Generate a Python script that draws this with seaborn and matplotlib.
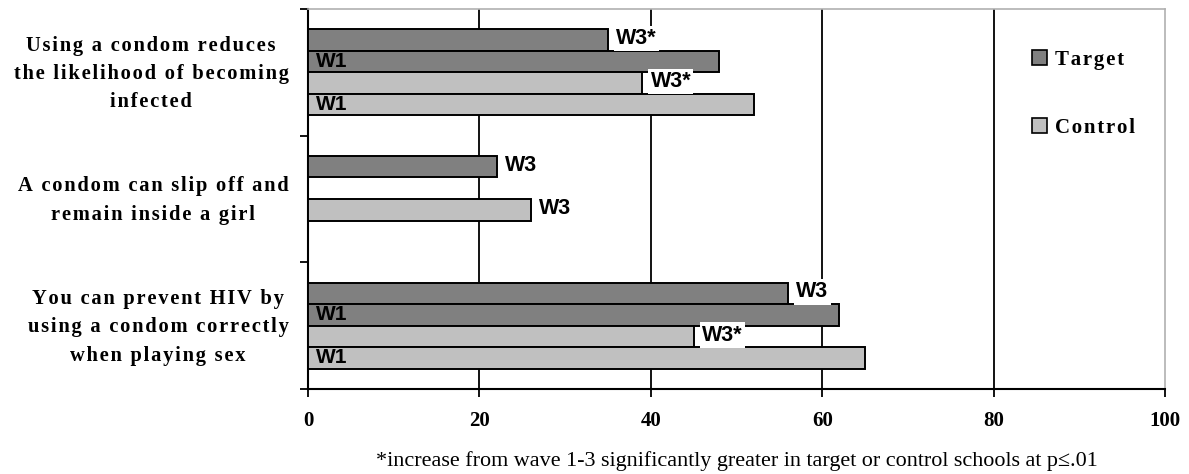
import numpy as np
import pandas as pd
import seaborn as sns
import matplotlib.pyplot as plt
from matplotlib.patches import Patch
from matplotlib.ticker import FixedLocator
from matplotlib.transforms import ScaledTranslation

# categories, top to bottom
categories = [
    "Using a condom reduces\nthe likelihood of becoming\ninfected",
    "A condom can slip off and\nremain inside a girl",
    "You can prevent HIV by\nusing a condom correctly\nwhen playing sex",
]
series = ["Target W3", "Target W1", "Control W3", "Control W1"]

# values (percent)
target_w3 = [35, 22, 56]
target_w1 = [48, np.nan, 62]
control_w3 = [39, 26, 45]
control_w1 = [52, np.nan, 65]

# bar labels
target_w3_lab = ["W3*", "W3", "W3"]
target_w1_lab = ["W1", "", "W1"]
control_w3_lab = ["W3*", "W3", "W3*"]
control_w1_lab = ["W1", "", "W1"]

x_ticks = [0, 20, 40, 60, 80, 100]
footnote = "*increase from wave 1-3 significantly greater in target or control schools at p\u2264.01"


def spaced(s):
    # the original has letter-spaced text, fake it with hair spaces
    return "\n".join("\u200a".join(line) for line in s.split("\n"))


rows = []
for s, vals in zip(series, [target_w3, target_w1, control_w3, control_w1]):
    for c, v in zip(categories, vals):
        if not np.isnan(v):
            rows.append({"question": c, "series": s, "pct": v})
df = pd.DataFrame(rows)

dark = "#808080"
light = "#c0c0c0"
palette = {"Target W3": dark, "Target W1": dark, "Control W3": light, "Control W1": light}

sns.set_style("white")
plt.rcParams.update({"text.color": "black", "xtick.color": "black", "ytick.color": "black",
                     "axes.labelcolor": "black"})
serif = ["Liberation Serif", "DejaVu Serif"]
sans = ["Liberation Sans", "DejaVu Sans"]

fig = plt.figure(figsize=(11.89, 4.74), dpi=100)
ax = fig.add_axes([308 / 1189, 1 - 389 / 474, (1165 - 308) / 1189, (389 - 9) / 474])

sns.barplot(data=df, x="pct", y="question", hue="series", order=categories,
            hue_order=series, palette=palette, orient="h", width=0.68,
            edgecolor="black", linewidth=1.4, errorbar=None, legend=False,
            saturation=1, ax=ax, zorder=3)

ax.set_xlim(0, 100)
ax.set_ylim(len(categories) - 0.5, -0.5)
ax.set_xticks(x_ticks)
ax.set_xticklabels([str(t) for t in x_ticks], fontfamily=serif, fontweight="bold", fontsize=15)
ax.tick_params(axis="x", direction="out", bottom=True, length=6, width=1.3, pad=10)
ax.yaxis.set_minor_locator(FixedLocator(np.arange(-0.5, len(categories), 1)))
ax.set_yticks(range(len(categories)))
ax.set_yticklabels([spaced(c) for c in categories])
ax.tick_params(axis="y", which="major", left=True, length=0, pad=14)
ax.tick_params(axis="y", which="minor", left=True, direction="out", length=6, width=1.3)
shift = ScaledTranslation(0, 0.05, fig.dpi_scale_trans)
for t in ax.get_yticklabels():
    t.set_fontfamily(serif)
    t.set_fontweight("bold")
    t.set_fontsize(14.8)
    t.set_multialignment("center")
    t.set_linespacing(1.55)
    t.set_transform(t.get_transform() + shift)
ax.set_xlabel("")
ax.set_ylabel("")

# vertical grid lines
for g in x_ticks[1:-1]:
    ax.axvline(g, color="black", lw=1.3, zorder=1)

for side in ["left", "bottom"]:
    ax.spines[side].set_color("black")
    ax.spines[side].set_linewidth(1.5)
for side in ["top", "right"]:
    ax.spines[side].set_color("#b0b0b0")
    ax.spines[side].set_linewidth(1.2)

# bar labels
for cont, labs in zip(ax.containers, [target_w3_lab, target_w1_lab, control_w3_lab, control_w1_lab]):
    for bar in cont:
        w = bar.get_width()
        if np.isnan(w):
            continue
        yc = bar.get_y() + bar.get_height() / 2
        lab = labs[int(round(yc))]
        if lab == "":
            continue
        if lab.startswith("W1"):
            ax.annotate(lab, (bar.get_x(), yc), xytext=(6, 0), textcoords="offset points",
                        va="center", ha="left", fontfamily=sans, fontweight="bold",
                        fontsize=15, zorder=5)
        else:
            ax.annotate(lab, (w, yc), xytext=(6, 1), textcoords="offset points",
                        va="center", ha="left", fontfamily=sans, fontweight="bold",
                        fontsize=15.5, zorder=5,
                        bbox=dict(facecolor="white", edgecolor="none", pad=1.5))

handles = [Patch(facecolor=dark, edgecolor="black", linewidth=1.2),
           Patch(facecolor=light, edgecolor="black", linewidth=1.2)]
leg = ax.legend(handles, [spaced("Target"), spaced("Control")], loc="upper left",
                bbox_to_anchor=(0.823, 0.942), frameon=False, handlelength=0.7,
                handleheight=0.7, handletextpad=0.4, labelspacing=2.3,
                prop={"family": serif, "weight": "bold", "size": 15})

fig.text(737 / 1189, 1 - 461 / 474, footnote, ha="center", va="center",
         fontfamily=serif, fontsize=15.9)

fig.savefig("out.png", dpi=100)
